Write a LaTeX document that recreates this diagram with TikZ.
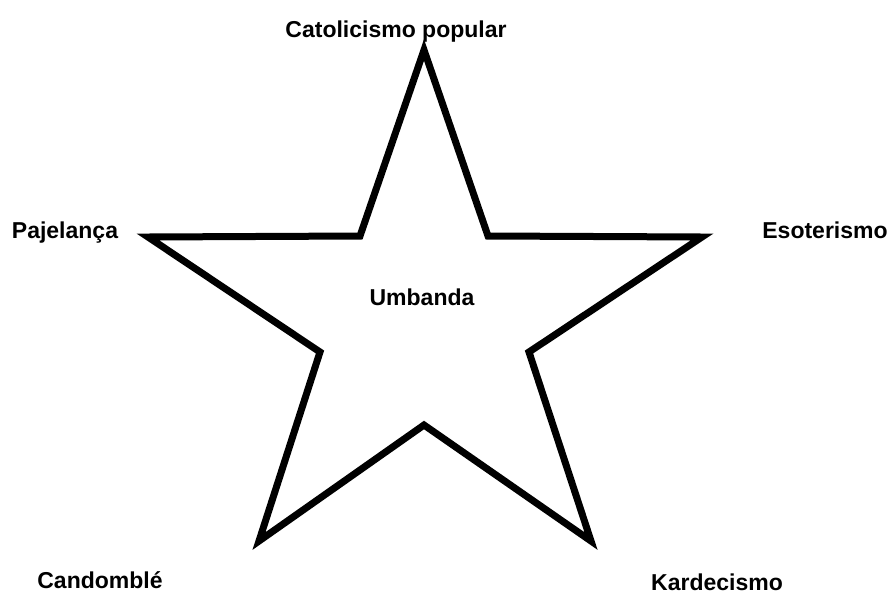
\documentclass[tikz,border=0pt]{standalone}
\usepackage{fontspec}
\setmainfont{Liberation Sans}
\usepackage{tikz}
\usetikzlibrary{positioning}
\tikzset{
  lbl/.style={font=\bfseries\fontsize{23}{27}\selectfont,anchor=base,inner sep=0pt},
  starline/.style={line width=7pt,line join=miter}
}
\begin{document}
\begin{tikzpicture}[x=1pt,y=-1pt]
    \useasboundingbox (0,0) rectangle (890,595);
    \draw[starline] (424,50) -- (488,236) -- (702,237) -- (529,352) -- (591,541)
        -- (424,425) -- (259,541) -- (320,352) -- (148,237) -- (360,236) -- cycle;
    \node[lbl] (catolicismo) at (396,37) {Catolicismo popular};
    \node[lbl] (pajelanca) at (65,238) {Pajelança};
    \node[lbl] (esoterismo) at (825,238) {Esoterismo};
    \node[lbl] (umbanda) at (422,305) {Umbanda};
    \node[lbl] (candomble) at (100,588) {Candomblé};
    \node[lbl] (kardecismo) at (717,590) {Kardecismo};
\end{tikzpicture}
\end{document}
